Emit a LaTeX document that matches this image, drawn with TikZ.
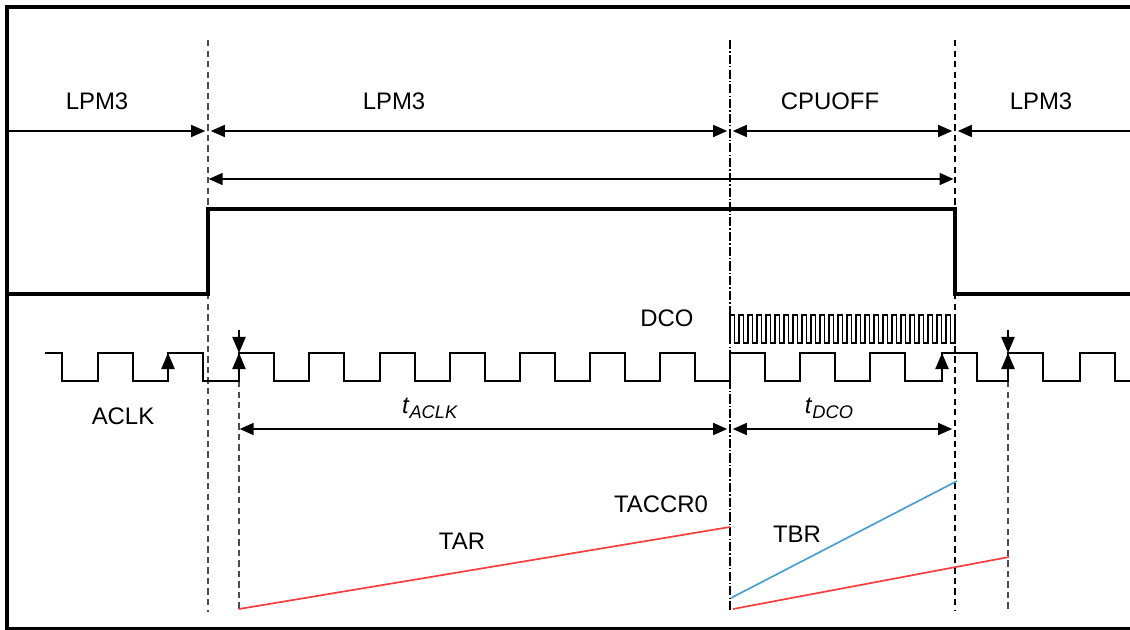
\documentclass[tikz,border=0pt]{standalone}
\usepackage{fontspec}
\setmainfont{Liberation Sans}
\usetikzlibrary{arrows.meta}
\definecolor{rampred}{RGB}{250,60,60}
\definecolor{rampblue}{RGB}{70,160,215}
\newcommand{\tsub}[2]{\textit{#1}\raisebox{-3.5pt}{\fontsize{13}{15}\selectfont\textit{#2}}}

\begin{document}
\begin{tikzpicture}[x=0.025cm, y=-0.025cm,
    every node/.style={align=center, font=\fontsize{17}{20}\selectfont},
    sig/.style={line width=2.6pt},
    wave/.style={line width=1.1pt, line join=miter},
    dim/.style={line width=1.1pt, {Triangle[length=3.5mm,width=3mm]}-{Triangle[length=3.5mm,width=3mm]}},
    dimR/.style={line width=1.1pt, -{Triangle[length=3.5mm,width=3mm]}},
    edgemark/.style={line width=1.1pt, -{Triangle[length=4mm,width=3.3mm]}},
    vdash/.style={line width=1.2pt, dash pattern=on 4.5pt off 3pt},
    vdashdot/.style={line width=1.2pt, dash pattern=on 6.5pt off 1.5pt on 1pt off 1.5pt}]
    \useasboundingbox (0,0) rectangle (1130,630);
    \draw[line width=2.2pt] (1135,7) -- (7,7) -- (7,629) -- (1135,629);

    % vertical markers
    \coordinate (v1t) at (208,40);   \coordinate (v1b) at (208,612);
    \coordinate (v2t) at (730,40);   \coordinate (v2b) at (730,610);
    \coordinate (v3t) at (955,40);   \coordinate (v3b) at (955,610);
    \coordinate (v4t) at (239,381);  \coordinate (v4b) at (239,610);
    \coordinate (v5t) at (1008,381); \coordinate (v5b) at (1008,610);
    \draw[vdash, gray!60!black] (v1t) -- (v1b);
    \draw[vdashdot] (v2t) -- (v2b);
    \draw[vdash] (v3t) -- (v3b);
    \draw[vdash, gray!60!black] (v4t) -- (v4b);
    \draw[vdash, gray!60!black] (v5t) -- (v5b);

    % mode arrows
    \coordinate (rowA) at (7,131);
    \coordinate (rowAr) at (1135,131);
    \coordinate (rowB) at (0,179);
    \coordinate (rowT) at (0,429);
    \draw[dimR, shorten >=2pt] (rowA) -- (v1t |- rowA);
    \draw[dim, shorten <=2pt, shorten >=2pt] (v1t |- rowA) -- (v2t |- rowA);
    \draw[dim, shorten <=2pt, shorten >=2pt] (v2t |- rowA) -- (v3t |- rowA);
    \draw[dimR, shorten >=2pt] (rowAr) -- (v3t |- rowA);
    \node (lpmA) at (97,101) {LPM3};
    \node (lpmB) at (394,101) {LPM3};
    \node (cpuoff) at (830,101) {CPUOFF};
    \node (lpmC) at (1041,101) {LPM3};
    \draw[dim, shorten <=0.5pt, shorten >=1pt] (v1t |- rowB) -- (v3t |- rowB);

    % interrupt signal
    \draw[sig] (7,294) -| (208,209) -| (955,294) -- (1135,294);

    % DCO
    \draw[wave] (730,343) \foreach \i in {0,...,24}{
        -- ({730+9*\i},315) -- ({734.5+9*\i},315)
        -- ({734.5+9*\i},343) -- ({739+9*\i},343)} -- (955,315);
    \node (dco) at (667,318) {DCO};

    % ACLK
    \coordinate (hi) at (0,353);
    \coordinate (lo) at (0,381);
    \coordinate (tick) at (0,330);
    \draw[wave] (45,353) -- (62,353) -- (62,381)
        \foreach \r in {98,168,239,309,380,450,520,590,660,730,800,870,942,1008,1080}{
        -- (\r,381) -- (\r,353) -- ({\r+35},353) -- ({\r+35},381)} -- (1135,381);
    \node (aclk) at (123,416) {ACLK};
    \coordinate (e1) at (168,353);
    \coordinate (e2) at (239,353);
    \coordinate (e3) at (942,353);
    \coordinate (e4) at (1008,353);
    \foreach \e in {e1,e2,e3,e4}
        \draw[edgemark] (\e |- lo) -- (\e);
    \draw[edgemark] (e2 |- tick) -- (e2);
    \draw[edgemark] (e4 |- tick) -- (e4);

    % periods
    \draw[dim, shorten <=0.5pt, shorten >=2pt] (v4t |- rowT) -- (v2t |- rowT);
    \draw[dim, shorten <=2pt, shorten >=2pt] (v2t |- rowT) -- (v3t |- rowT);
    \node (taclk) at (430,408) {\tsub{t}{ACLK}};
    \node (tdco) at (829,408) {\tsub{t}{DCO}};

    % timer ramps
    \coordinate (tarS) at (239,609);  \coordinate (tarE) at (730,527);
    \coordinate (tbrS) at (731,598);  \coordinate (tbrE) at (957,481);
    \coordinate (tarS2) at (733,609); \coordinate (tarE2) at (1009,557);
    \draw[rampred, line width=1.2pt] (tarS) -- (tarE);
    \draw[rampblue, line width=1.2pt] (tbrS) -- (tbrE);
    \draw[rampred, line width=1.2pt] (tarS2) -- (tarE2);
    \node (taccr) at (661,504) {TACCR0};
    \node (tar) at (462,541) {TAR};
    \node (tbr) at (797,534) {TBR};
\end{tikzpicture}
\end{document}
